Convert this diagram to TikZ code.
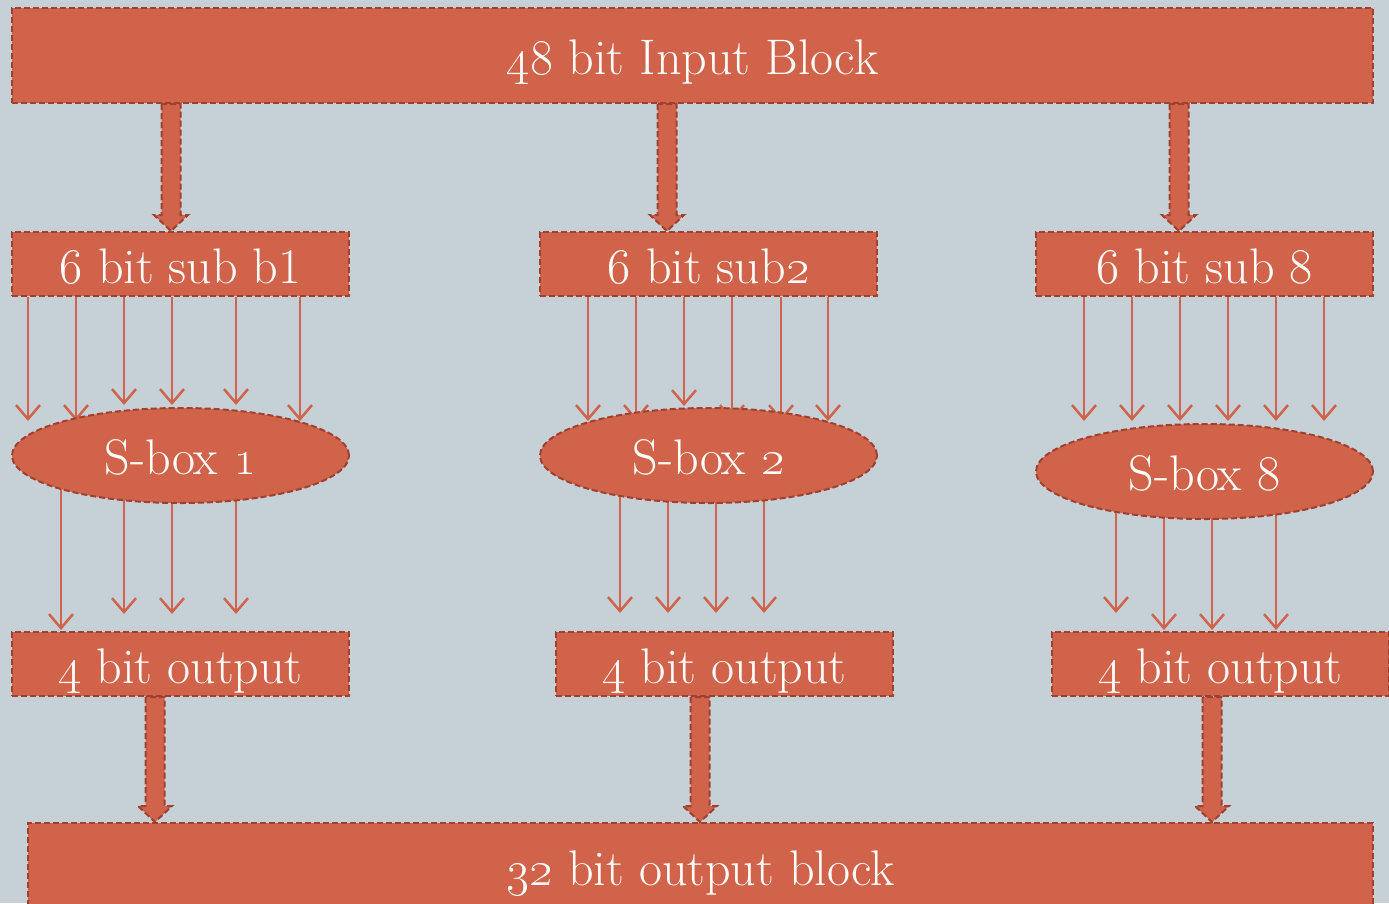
\RequirePackage{fix-cm}
\documentclass[tikz,border=0pt]{standalone}
\usetikzlibrary{shapes.geometric,arrows.meta,calc}
\definecolor{boxfill}{RGB}{208,99,74}
\definecolor{boxedge}{RGB}{160,64,48}
\definecolor{bgcol}{RGB}{197,209,215}
\pgfdeclarelayer{bglayer}
\pgfsetlayers{bglayer,main}
\newcommand\os[1]{\oldstylenums{#1}}
\tikzset{
  blk/.style={rectangle, fill=boxfill, draw=boxedge, line width=2pt,
    dash pattern=on 6pt off 3pt, text=white, inner sep=0pt,
    text height=38pt, text depth=0pt,
    font=\fontsize{50}{54}\selectfont},
  sbox/.style={blk, ellipse, minimum width=337pt, minimum height=95pt},
  subbox/.style={blk, minimum width=337pt, minimum height=64pt},
  wire/.style={draw=boxfill, line width=2.5pt,
    -{Straight Barb[length=14pt,width=24pt,line width=2.5pt]}},
  fat/.style={fill=boxfill, draw=boxedge, line width=2pt, dash pattern=on 6pt off 3pt}
}
\newcommand\fatarrow[2]{%
  \draw[fat] let \p1=#1, \p2=#2 in
    (\x1-9.5pt,\y1) -- (\x1-9.5pt,\y2+16pt) -- (\x1-17pt,\y2+16pt) --
    (\x1,\y2) -- (\x1+17pt,\y2+16pt) -- (\x1+9.5pt,\y2+16pt) --
    (\x1+9.5pt,\y1) -- cycle;}
\begin{document}
\begin{tikzpicture}[x=1pt,y=-1pt]
\useasboundingbox (0,0) rectangle (1389,903);
\clip (0,0) rectangle (1389,903);
\begin{pgfonlayer}{bglayer}
\fill[bgcol] (0,0) rectangle (1389,903);
\end{pgfonlayer}

% boxes
\node[blk, minimum width=1361pt, minimum height=95pt] (top) at (692.5,55.5) {\os{48} bit Input Block};
\node[subbox] (s1) at (180.5,264) {\os{6} bit sub b1};
\node[subbox] (s2) at (708.5,264) {\os{6} bit sub\os{2}};
\node[subbox] (s3) at (1204.5,264) {\os{6} bit sub 8};

\node[sbox] (e1) at (180.5,455.5) {S-box \os{1}};
\node[sbox] (e2) at (708.5,455.5) {S-box \os{2}};
\node[sbox] (e3) at (1204.5,471.5) {S-box 8};

\node[subbox] (o1) at (180.5,664) {\os{4} bit output};
\node[subbox] (o2) at (724.5,664) {\os{4} bit output};
\node[subbox] (o3) at (1220.5,664) {\os{4} bit output};

\node[blk, minimum width=1345pt, minimum height=86pt] (bot) at (700.5,866) {\os{32} bit output block};

% thin arrows (behind ellipses)
\begin{pgfonlayer}{bglayer}
\foreach \dx/\len in {17/124,65/124,113/108,161/108,225/108,289/124}
  \draw[wire] ([xshift=\dx pt]s1.south west) -- ++(0,\len);
\foreach \dx/\len in {49/124,97/124,145/109,193/124,242/124,289/124}
  \draw[wire] ([xshift=\dx pt]s2.south west) -- ++(0,\len);
\foreach \dx/\len in {49/124,97/124,145/124,193/124,241/124,289/124}
  \draw[wire] ([xshift=\dx pt]s3.south west) -- ++(0,\len);
\foreach \dx/\len in {50/174.5,113/158.5,161/158.5,225/158.5}
  \draw[wire] ([xshift=\dx pt]e1.west) -- ++(0,\len);
\foreach \dx/\len in {81/157.5,129/157.5,177/157.5,225/157.5}
  \draw[wire] ([xshift=\dx pt]e2.west) -- ++(0,\len);
\foreach \dx/\len in {81/141.5,129/158.5,177/158.5,241/158.5}
  \draw[wire] ([xshift=\dx pt]e3.west) -- ++(0,\len);
\end{pgfonlayer}

% fat arrows
\fatarrow{([xshift=160pt]top.south west)}{([xshift=160pt]s1.north west)}
\fatarrow{([xshift=656pt]top.south west)}{([xshift=128pt]s2.north west)}
\fatarrow{([xshift=1168pt]top.south west)}{([xshift=144pt]s3.north west)}
\fatarrow{([xshift=144pt]o1.south west)}{([xshift=128pt]bot.north west)}
\fatarrow{([xshift=145pt]o2.south west)}{([xshift=673pt]bot.north west)}
\fatarrow{([xshift=161pt]o3.south west)}{([xshift=1185pt]bot.north west)}
\end{tikzpicture}
\end{document}
